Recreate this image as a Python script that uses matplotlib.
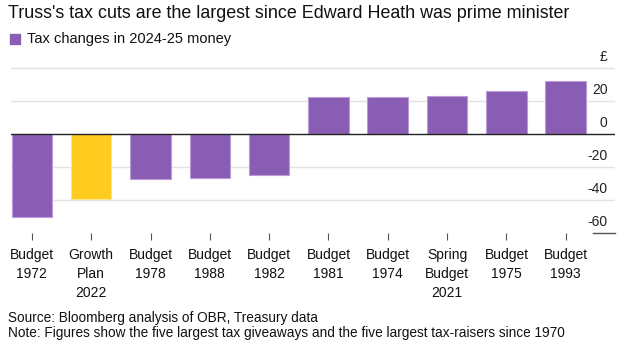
import matplotlib.pyplot as plt

plt.rcParams['font.family'] = ['Liberation Sans', 'DejaVu Sans']

# Данные
labels = ["Budget\n1972", "Growth\nPlan\n2022", "Budget\n1978", "Budget\n1988", "Budget\n1982",
          "Budget\n1981", "Budget\n1974", "Spring\nBudget\n2021", "Budget\n1975", "Budget\n1993"]
values = [-50, -39.4, -27, -26.5, -24.6, 22.7, 22.7, 23.3, 26.4, 32.5]
highlight = "Growth\nPlan\n2022"
yticks = [40, 20, 0, -20, -40, -60]

purple = '#8a5db4'
yellow = '#fecb1e'
colors = [yellow if lab == highlight else purple for lab in labels]
edges = ['#fde58a' if lab == highlight else '#b99bd8' for lab in labels]

fig = plt.figure(figsize=(6.41, 3.51), dpi=100)
W, H = 641, 351
# оси в пикселях: слева 10.5, справа 615, сверху 60, снизу 233
ax = fig.add_axes([10.5 / W, 1 - 233 / H, (615 - 10.5) / W, (233 - 60) / H])

x = list(range(len(labels)))
ax.bar(x, values, width=0.685, color=colors, edgecolor=edges, linewidth=0.8, zorder=3)

ax.set_xlim(-0.36, 9.83)
ax.set_ylim(-60, 45)

# Сетка
for t in yticks:
    if t == 0:
        ax.axhline(0, color='#222222', linewidth=1.0, zorder=4)
    elif t == -60:
        ax.plot([0.963, 1.0], [t, t], color='#555555', linewidth=1.0,
                transform=ax.get_yaxis_transform(), clip_on=False)
    else:
        ax.axhline(t, color='#e3e3e3', linewidth=1.0, zorder=1)
    if t != 40:
        ax.text(0.9875, t + 2.5, f"{t}", transform=ax.get_yaxis_transform(),
                ha='right', va='bottom', fontsize=10, color='#222222')
ax.text(0.9875, 42.5, "£", transform=ax.get_yaxis_transform(),
        ha='right', va='bottom', fontsize=10, color='#222222')

for s in ax.spines.values():
    s.set_visible(False)
ax.set_yticks([])
ax.set_xticks(x)
ax.set_xticklabels(labels, fontsize=10, linespacing=1.45, color='#111111')
ax.tick_params(axis='x', length=5, width=0.8, color='#555555', pad=6)

# Заголовок и легенда
fig.text(8 / W, 1 - 14 / H, "Truss's tax cuts are the largest since Edward Heath was prime minister",
         ha='left', va='center', fontsize=12.9, color='#111111')
fig.patches.append(plt.Rectangle((10 / W, 1 - 44 / H), 10 / W, 10 / H, color=purple,
                                 transform=fig.transFigure, figure=fig))
fig.text(27 / W, 1 - 39 / H, "Tax changes in 2024-25 money", ha='left', va='center',
         fontsize=10.5, color='#111111')

# Подписи снизу
fig.text(8 / W, 1 - 318 / H, "Source: Bloomberg analysis of OBR, Treasury data",
         ha='left', va='center', fontsize=9.8, color='#111111')
fig.text(8 / W, 1 - 333 / H,
         "Note: Figures show the five largest tax giveaways and the five largest tax-raisers since 1970",
         ha='left', va='center', fontsize=9.8, color='#111111')

fig.savefig('out.png', dpi=100)
